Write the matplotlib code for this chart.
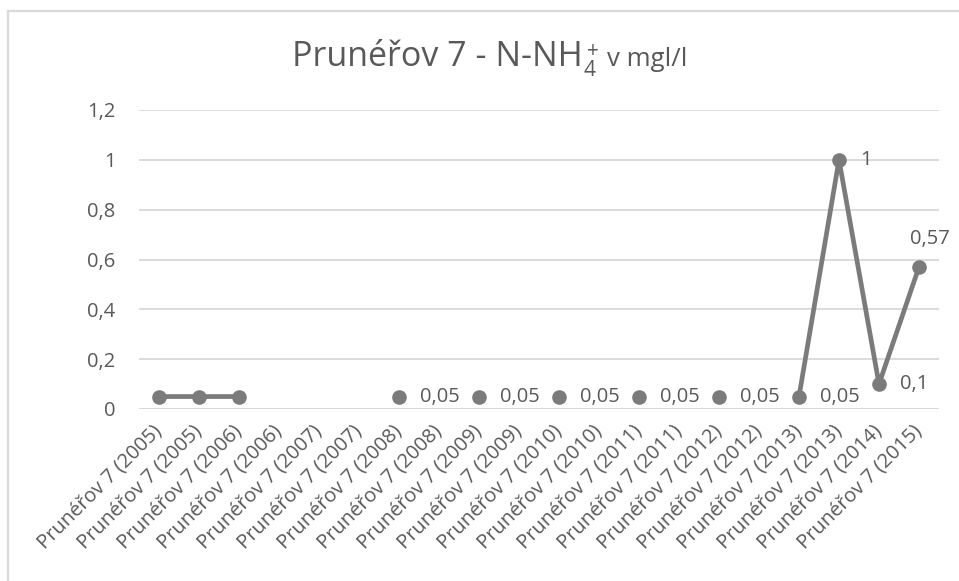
import numpy as np
import matplotlib
matplotlib.use("Agg")
import matplotlib.pyplot as plt
from matplotlib.lines import Line2D

# ---------------- data ----------------
categories = [
    "Prunéřov 7 (2005)", "Prunéřov 7 (2005)", "Prunéřov 7 (2006)", "Prunéřov 7 (2006)",
    "Prunéřov 7 (2007)", "Prunéřov 7 (2007)", "Prunéřov 7 (2008)", "Prunéřov 7 (2008)",
    "Prunéřov 7 (2009)", "Prunéřov 7 (2009)", "Prunéřov 7 (2010)", "Prunéřov 7 (2010)",
    "Prunéřov 7 (2011)", "Prunéřov 7 (2011)", "Prunéřov 7 (2012)", "Prunéřov 7 (2012)",
    "Prunéřov 7 (2013)", "Prunéřov 7 (2013)", "Prunéřov 7 (2014)", "Prunéřov 7 (2015)",
]
nan = np.nan
values = [0.05, 0.05, 0.05, nan, nan, nan, 0.05, nan, 0.05, nan,
          0.05, nan, 0.05, nan, 0.05, nan, 0.05, 1.0, 0.1, 0.57]
# which points carry a data label
labelled = [False, False, False, False, False, False, True, False, True, False,
            True, False, True, False, True, False, True, True, True, True]
y_ticks = [0, 0.2, 0.4, 0.6, 0.8, 1.0, 1.2]

# ---------------- style ----------------
FONT = "Open Sans"
TXT = "#595959"
GRID = "#d9d9d9"
LINE = "#7b7b7b"
FS = 14.5
plt.rcParams["font.family"] = [FONT, "DejaVu Sans"]

W, H = 959, 581
fig = plt.figure(figsize=(W / 100, H / 100), dpi=100)
fig.patch.set_facecolor("white")

def fx(px):
    return px / W

def fy(py):
    return 1 - py / H

ax = fig.add_axes([fx(139), fy(409), fx(939) - fx(139), fy(110) - fy(409)])
x = np.arange(len(categories))
vals = np.array(values, dtype=float)

ax.plot(x, vals, color=LINE, lw=3.4, marker="o", ms=9.5,
        markerfacecolor=LINE, markeredgecolor=LINE, solid_capstyle="round", zorder=3)

ax.set_xlim(-0.5, len(categories) - 0.5)
ax.set_ylim(0, 1.2)
ax.set_yticks(y_ticks)
ax.set_yticklabels([f"{t:g}".replace(".", ",") for t in y_ticks])
ax.yaxis.grid(True, color=GRID, lw=1.3)
ax.set_axisbelow(True)
for s in ax.spines.values():
    s.set_visible(False)
ax.tick_params(axis="both", length=0, colors=TXT, labelsize=FS)
ax.tick_params(axis="y", pad=17)
ax.set_xticks(x)
ax.set_xticklabels(categories, rotation=45, ha="right", va="center",
                   rotation_mode="anchor", fontsize=FS, color=TXT)
ax.tick_params(axis="x", pad=14)
ax.axhline(0, color=GRID, lw=1.3, zorder=1)

# data labels
for i, (v, lab) in enumerate(zip(vals, labelled)):
    if not lab or np.isnan(v):
        continue
    txt = f"{v:g}".replace(".", ",")
    if i == len(vals) - 1:
        ax.annotate(txt, (i, v), xytext=(8, 13), textcoords="offset points",
                    ha="center", va="bottom", fontsize=FS, color=TXT)
    else:
        ax.annotate(txt, (i, v), xytext=(15, 0), textcoords="offset points",
                    ha="left", va="center", fontsize=FS, color=TXT)

# ---------------- title (built from pieces) ----------------
base_y = fy(66.5)
t1 = fig.text(0, base_y, "Prunéřov 7 - N-NH", fontsize=24.5, color=TXT, va="baseline")
t2 = fig.text(0, fy(75.5), "4", fontsize=15, color=TXT, va="baseline")
t3 = fig.text(0, fy(57), "+", fontsize=15, color=TXT, va="baseline")
t4 = fig.text(0, base_y, "v mgl/l", fontsize=18.5, color=TXT, va="baseline")
fig.canvas.draw()
r = fig.canvas.get_renderer()
w1 = t1.get_window_extent(r).width
w2 = t2.get_window_extent(r).width
w3 = t3.get_window_extent(r).width
w4 = t4.get_window_extent(r).width
gap = 8
total = w1 + max(w2, w3 + 4) + gap + w4
start = 490 - total / 2
t1.set_x(fx(start))
t2.set_x(fx(start + w1))
t3.set_x(fx(start + w1 + 4))
t4.set_x(fx(start + w1 + max(w2, w3 + 4) + gap))

# chart border (top and left visible)
fig.add_artist(Line2D([fx(8), fx(8)], [fy(11), 0], transform=fig.transFigure,
                      color=GRID, lw=1.6))
fig.add_artist(Line2D([fx(8), 1], [fy(11), fy(11)], transform=fig.transFigure,
                      color=GRID, lw=1.6))

fig.savefig("out.png", dpi=100, facecolor="white")
